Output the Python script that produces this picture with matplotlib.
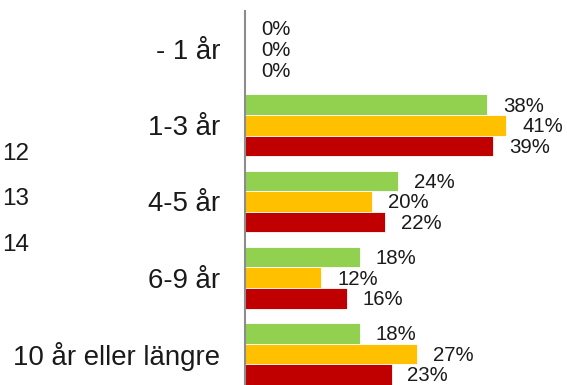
import numpy as np
import matplotlib
matplotlib.use('Agg')
import matplotlib.pyplot as plt

plt.rcParams['font.family'] = ['Liberation Sans', 'DejaVu Sans']

categories = ['- 1 år', '1-3 år', '4-5 år', '6-9 år', '10 år eller längre']
series_names = ['12', '13', '14']
values_12 = [0, 38, 24, 18, 18]
values_13 = [0, 41, 20, 12, 27]
values_14 = [0, 39, 22, 16, 23]
colors = ['#92D050', '#FFC000', '#C00000']

W, H = 567, 385
fig = plt.figure(figsize=(W / 100, H / 100), dpi=100)
ax = fig.add_axes([245 / W, -7 / H, 318.5 / W, 381 / H])

y = np.arange(len(categories))
bar_h = 0.27
all_values = [values_12, values_13, values_14]
for k, (vals, col) in enumerate(zip(all_values, colors)):
    pos = y + (k - 1) * bar_h
    ax.barh(pos, vals, height=bar_h, color=col, edgecolor='white', linewidth=0.6)
    for p, v in zip(pos, vals):
        ax.annotate(f"{v}%", (v, p), xytext=(11.5, -1), textcoords='offset points',
                    ha='left', va='center', fontsize=14.7, color='#1a1a1a')

ax.set_xlim(0, 50)
ax.set_ylim(len(categories) - 0.5, -0.5)
ax.set_yticks(y)
ax.set_yticklabels(categories, fontsize=19.9, color='#1a1a1a')
ax.tick_params(axis='y', length=0, pad=18)
ax.set_xticks([])
for side in ['top', 'right', 'bottom']:
    ax.spines[side].set_visible(False)
ax.spines['left'].set_color('#8c8c8c')
ax.spines['left'].set_linewidth(1.5)

# legend entries (markers fall outside the visible area)
for i, name in enumerate(series_names):
    fig.text(2 / W, 1 - (153.5 + i * 45.5) / H, name, ha='left', va='center',
             fontsize=17.5, color='#1a1a1a')

fig.savefig('out.png', dpi=100)
